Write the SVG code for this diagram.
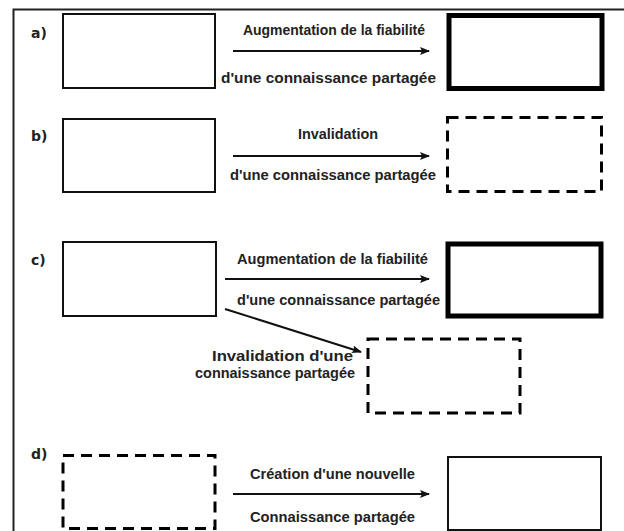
<svg xmlns="http://www.w3.org/2000/svg" width="624" height="531" viewBox="0 0 624 531">
<style>
.frame{fill:none;stroke:#222;stroke-width:2}
.box{fill:#fff;stroke:#111;stroke-width:2}
.thick{fill:#fff;stroke:#000;stroke-width:5}
.dash{fill:#fff;stroke:#000;stroke-width:3;stroke-dasharray:11 7}
.lbl{font-family:"DejaVu Sans",sans-serif;font-weight:bold;font-size:14px;fill:#222}
.t{font-family:"Liberation Sans",Arial,sans-serif;font-weight:bold;font-size:14px;fill:#222}
.c{stroke:#111;stroke-width:2;fill:none;marker-end:url(#ah)}
</style>
<defs>
<marker id="ah" markerWidth="10" markerHeight="8" refX="9" refY="4" orient="auto" markerUnits="userSpaceOnUse">
<path d="M0,0 L10,4 L0,8 L2,4 Z" fill="#111"/>
</marker>
</defs>
<rect width="624" height="531" fill="#fff"/>
<path class="frame" d="M13.5,531 L13.5,9.5 L624,9.5"/>

<g id="row-a">
<text class="lbl" x="31" y="38">a)</text>
<g id="a-src"><rect class="box" x="63" y="14" width="152" height="74"/></g>
<g id="a-dst"><rect class="thick" x="449" y="15.5" width="153" height="73"/></g>
<text class="t" x="243" y="35" textLength="182" lengthAdjust="spacingAndGlyphs">Augmentation de la fiabilité</text>
<text class="t" x="221" y="83" textLength="215" lengthAdjust="spacingAndGlyphs">d'une connaissance partagée</text>
</g>

<g id="row-b">
<text class="lbl" x="31" y="141">b)</text>
<g id="b-src"><rect class="box" x="63" y="119" width="152" height="73"/></g>
<g id="b-dst"><rect class="dash" x="447.5" y="117.5" width="154" height="74"/></g>
<text class="t" x="298" y="139" textLength="80" lengthAdjust="spacingAndGlyphs">Invalidation</text>
<text class="t" x="230" y="180" textLength="206" lengthAdjust="spacingAndGlyphs">d'une connaissance partagée</text>
</g>

<g id="row-c">
<text class="lbl" x="31" y="265">c)</text>
<g id="c-src"><rect class="box" x="63" y="242" width="153" height="74"/></g>
<g id="c-dst1"><rect class="thick" x="448" y="244" width="153" height="72"/></g>
<g id="c-dst2"><rect class="dash" x="368" y="339" width="152" height="74"/></g>
<text class="t" x="237" y="264" textLength="191" lengthAdjust="spacingAndGlyphs">Augmentation de la fiabilité</text>
<text class="t" x="237" y="305" textLength="203" lengthAdjust="spacingAndGlyphs">d'une connaissance partagée</text>
<text class="t" x="212" y="361" textLength="141" lengthAdjust="spacingAndGlyphs">Invalidation d'une</text>
<text class="t" x="195" y="378" textLength="160" lengthAdjust="spacingAndGlyphs">connaissance partagée</text>
</g>

<g id="row-d">
<text class="lbl" x="31" y="459">d)</text>
<g id="d-src"><rect class="dash" x="63" y="455.5" width="152" height="73"/></g>
<g id="d-dst"><rect class="box" x="448" y="457" width="153" height="73"/></g>
<text class="t" x="250" y="479" textLength="165" lengthAdjust="spacingAndGlyphs">Création d'une nouvelle</text>
<text class="t" x="250" y="522" textLength="165" lengthAdjust="spacingAndGlyphs">Connaissance partagée</text>
</g>

<g id="connectors">
<line class="c" x1="233" y1="51" x2="429" y2="51"/>
<line class="c" x1="233" y1="156" x2="429" y2="156"/>
<line class="c" x1="225" y1="279" x2="429" y2="279"/>
<line class="c" x1="225" y1="309" x2="361" y2="352"/>
<line class="c" x1="233" y1="494" x2="429" y2="494"/>
</g>
</svg>
